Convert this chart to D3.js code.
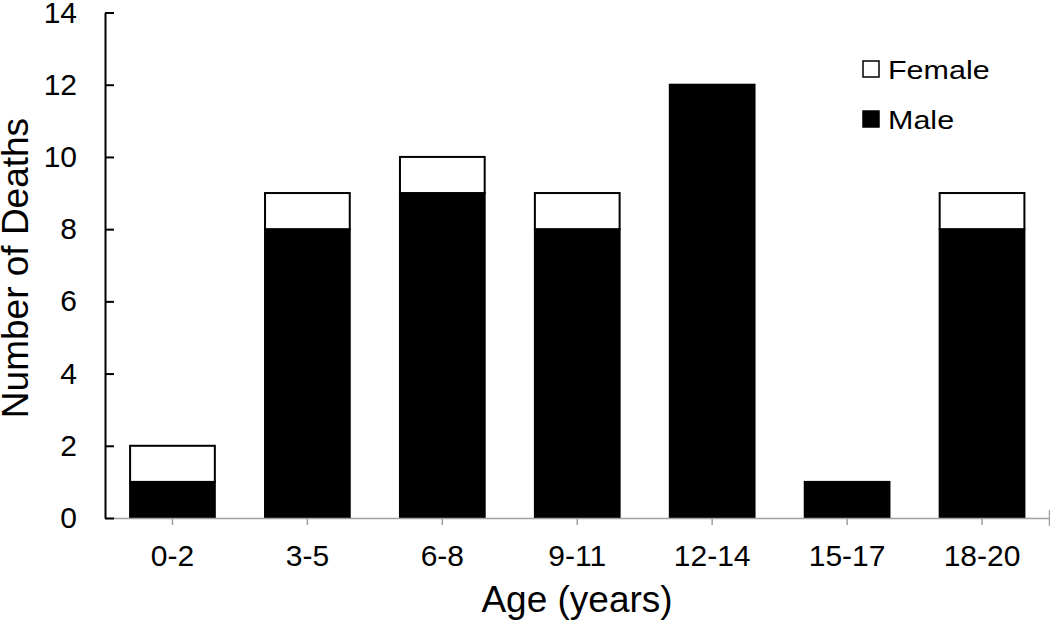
<!DOCTYPE html>
<html>
<head>
<meta charset="utf-8">
<script src="https://cdn.jsdelivr.net/npm/d3@7"></script>
<style>
  html, body { margin: 0; padding: 0; background: #fff; }
  svg { display: block; font-family: "Liberation Sans", Arial, sans-serif; }
</style>
</head>
<body>
<svg id="chart" width="1050" height="623"></svg>
<script>
const categories = ["0-2", "3-5", "6-8", "9-11", "12-14", "15-17", "18-20"];
const maleValues = [1, 8, 9, 8, 12, 1, 8];
const femaleValues = [1, 1, 1, 1, 0, 0, 1];
const yTicks = [0, 2, 4, 6, 8, 10, 12, 14];
const seriesNames = ["Female", "Male"];

const svg = d3.select("#chart");

const x = d3.scaleBand().domain(categories).range([105, 1049.5])
  .paddingInner(0.372).paddingOuter(0.186);
const y = d3.scaleLinear().domain([0, 14]).range([518, 12.5]);

const rows = categories.map((c, i) => ({ cat: c, Male: maleValues[i], Female: femaleValues[i] }));
const stack = d3.stack().keys(["Male", "Female"])(rows);
const fills = { Male: "#000", Female: "#fff" };

// bars
svg.append("g").selectAll("g").data(stack).join("g")
  .attr("fill", d => fills[d.key])
  .selectAll("rect").data(d => d.filter(s => s[1] - s[0] > 0)).join("rect")
  .attr("x", d => x(d.data.cat))
  .attr("y", d => y(d[1]))
  .attr("width", x.bandwidth())
  .attr("height", d => y(d[0]) - y(d[1]))
  .attr("stroke", "#000")
  .attr("stroke-width", 2);

// x axis
const xAxis = svg.append("g").attr("transform", "translate(0,518)")
  .call(d3.axisBottom(x).tickSizeInner(7).tickSizeOuter(0).tickPadding(20));
xAxis.select(".domain").attr("stroke", "#a0a0a0").attr("stroke-width", 1.5);
xAxis.selectAll(".tick line").attr("stroke", "#a0a0a0").attr("stroke-width", 1.5);
xAxis.selectAll(".tick text").attr("font-size", 30).attr("fill", "#000")
  .attr("font-family", "Liberation Sans, Arial, sans-serif");
// right end tick
xAxis.append("line").attr("x1", x.range()[1]).attr("x2", x.range()[1])
  .attr("y1", -8).attr("y2", 8).attr("stroke", "#a0a0a0").attr("stroke-width", 1.5);

// y axis
const yAxis = svg.append("g").attr("transform", "translate(105,0)")
  .call(d3.axisLeft(y).tickValues(yTicks).tickSizeInner(-9).tickSizeOuter(0).tickPadding(28));
yAxis.select(".domain").attr("stroke", "#000").attr("stroke-width", 2);
yAxis.selectAll(".tick line").attr("stroke", "#000").attr("stroke-width", 2);
yAxis.selectAll(".tick text").attr("font-size", 30).attr("fill", "#000")
  .attr("font-family", "Liberation Sans, Arial, sans-serif");

// axis titles
svg.append("text").attr("x", 577).attr("y", 612).attr("text-anchor", "middle")
  .attr("font-size", 37).attr("fill", "#000").text("Age (years)");
svg.append("text").attr("transform", "translate(28,268) rotate(-90)")
  .attr("text-anchor", "middle").attr("font-size", 37).attr("fill", "#000")
  .text("Number of Deaths");

// legend
const legend = svg.append("g");
const legY = [69, 119];
seriesNames.forEach((name, i) => {
  legend.append("rect").attr("x", 863).attr("y", legY[i] - 8)
    .attr("width", 16).attr("height", 16)
    .attr("fill", fills[name]).attr("stroke", "#000").attr("stroke-width", 1.5);
  legend.append("text")
    .attr("transform", `translate(888,${legY[i] + 9.5}) scale(1,0.84)`)
    .attr("font-size", 30.5).attr("fill", "#000").text(name);
});
</script>
</body>
</html>
